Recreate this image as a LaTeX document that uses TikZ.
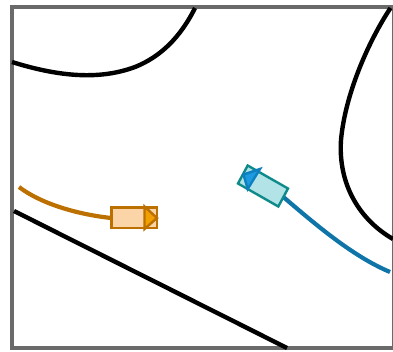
\documentclass[tikz,border=0pt]{standalone}
\tikzset{
  road/.style={line width=4.4pt,black},
  tracka/.style={line width=4.2pt,color=orangeline},
  trackb/.style={line width=4.2pt,color=blueline},
}
\definecolor{orangeline}{HTML}{BC7000}
\definecolor{orangefill}{HTML}{FBD5A8}
\definecolor{orangetri}{HTML}{F0A000}
\definecolor{blueline}{HTML}{0F75A8}
\definecolor{tealline}{HTML}{0E8A8A}
\definecolor{tealfill}{HTML}{B2E3E6}
\definecolor{bluetri}{HTML}{1C9BE0}
\definecolor{bluetriline}{HTML}{0F7FC0}
\definecolor{frameline}{HTML}{6A6A6A}
\begin{document}
\begin{tikzpicture}[x=1pt,y=-1pt]
\useasboundingbox (0,0) rectangle (393,351);
% frame
\draw[frameline,line width=4.6pt] (12,7) rectangle (394.2,348);
% roads
\draw[road] (12,62) .. controls (60,77) and (100,80) .. (135,67) .. controls (160,57) and (180,38) .. (195,8);
\draw[road] (390.5,8) .. controls (368,42) and (345,95) .. (341,140) .. controls (338,185) and (360,220) .. (393,239);
\draw[road] (14,211) -- (287,348);
% tracks
\draw[tracka] (19,187) .. controls (40,203) and (75,214) .. (111,218);
\draw[trackb] (281,195) .. controls (315,224) and (352,256) .. (390,272);
% orange vehicle
\draw[orangeline,fill=orangefill,line width=2.4pt] (111.5,207.5) rectangle (157,228);
\draw[orangeline,fill=orangetri,line width=2.4pt] (144.5,206.5) -- (144.5,229) -- (157,218) -- cycle;
% teal vehicle
\draw[tealline,fill=tealfill,line width=2.4pt] (247.7,165.5) -- (288,188.5) -- (278.3,206.5) -- (238,183.5) -- cycle;
\draw[bluetriline,fill=bluetri,line width=2.4pt] (260,169) -- (243.5,174.5) -- (247.7,189) -- cycle;
\end{tikzpicture}
\end{document}
